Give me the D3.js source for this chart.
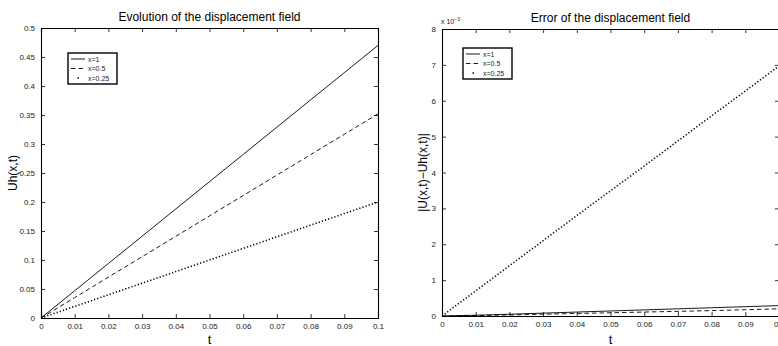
<!DOCTYPE html>
<html>
<head>
<meta charset="utf-8">
<script src="https://cdn.jsdelivr.net/npm/d3@7"></script>
<style>
  body { margin: 0; background: #fff; }
  svg { display: block; font-family: "Liberation Sans", Arial, Helvetica, sans-serif; }
</style>
</head>
<body>
<div id="chart"></div>
<script>
// time values (shared by both panels)
const tValues = [0, 0.01, 0.02, 0.03, 0.04, 0.05, 0.06, 0.07, 0.08, 0.09, 0.1];
const seriesNames = ["x=1", "x=0.5", "x=0.25"];

// left panel: Uh(x,t)
const uhX1 = [0, 0.047, 0.094, 0.141, 0.188, 0.235, 0.282, 0.329, 0.376, 0.423, 0.47];
const uhX05 = [0, 0.0352, 0.0704, 0.1056, 0.1408, 0.176, 0.2112, 0.2464, 0.2816, 0.3168, 0.352];
const uhX025 = [0, 0.02, 0.04, 0.06, 0.08, 0.1, 0.12, 0.14, 0.16, 0.18, 0.2];

// right panel: |U(x,t)-Uh(x,t)|
const errX1 = [0, 0.000022, 0.00005, 0.00008, 0.00011, 0.00014, 0.00017, 0.0002, 0.00023, 0.00026, 0.00029];
const errX05 = [0, 0.000012, 0.00003, 0.00005, 0.00007, 0.00009, 0.00011, 0.00013, 0.00015, 0.000175, 0.0002];
const errX025 = [0, 0.0007, 0.0014, 0.0021, 0.0028, 0.00349, 0.00418, 0.00488, 0.00558, 0.00627, 0.00697];

const xTicks = [0, 0.01, 0.02, 0.03, 0.04, 0.05, 0.06, 0.07, 0.08, 0.09, 0.1];
const leftYTicks = [0, 0.05, 0.1, 0.15, 0.2, 0.25, 0.3, 0.35, 0.4, 0.45, 0.5];
const rightYTicks = [0, 0.001, 0.002, 0.003, 0.004, 0.005, 0.006, 0.007, 0.008];

const styles = [
  { width: 0.9, dash: null },
  { width: 0.9, dash: "4.5,3" },
  { width: 1.6, dash: "1.2,2.1" }
];

const svg = d3.select("#chart").append("svg")
  .attr("width", 778)
  .attr("height", 346);

function drawPanel(opts) {
  const { left, top, width, height } = opts;
  const x = d3.scaleLinear().domain([0, 0.1]).range([left, left + width]);
  const y = d3.scaleLinear().domain(opts.yDomain).range([top + height, top]);
  const g = svg.append("g");

  const clipId = "clip" + left;
  svg.append("clipPath").attr("id", clipId)
    .append("rect").attr("x", left).attr("y", top - 2).attr("width", width).attr("height", height + 2);

  // lines
  const line = d3.line().x((d, i) => x(tValues[i])).y(d => y(d));
  opts.series.forEach((s, i) => {
    g.append("path").datum(s)
      .attr("clip-path", `url(#${clipId})`)
      .attr("fill", "none")
      .attr("stroke", "#000")
      .attr("stroke-width", styles[i].width)
      .attr("stroke-dasharray", styles[i].dash)
      .attr("d", line);
  });

  // axes with inward ticks
  const fmt = opts.fmt;
  g.append("g").attr("transform", `translate(0,${top + height})`)
    .call(d3.axisBottom(x).tickValues(xTicks).tickSize(-4).tickPadding(5).tickFormat(d => d3.format("")(+d.toFixed(2))));
  g.append("g").attr("transform", `translate(0,${top})`)
    .call(d3.axisTop(x).tickValues(xTicks).tickSize(-4).tickFormat(""));
  g.append("g").attr("transform", `translate(${left},0)`)
    .call(d3.axisLeft(y).tickValues(opts.yTicks).tickSize(-4).tickPadding(6).tickFormat(fmt));
  g.append("g").attr("transform", `translate(${left + width},0)`)
    .call(d3.axisRight(y).tickValues(opts.yTicks).tickSize(-4).tickFormat(""));

  g.selectAll(".domain").attr("stroke", "#000").attr("stroke-width", 1.1);
  g.selectAll(".tick line").attr("stroke", "#000").attr("stroke-width", 0.8);
  g.selectAll(".tick text").attr("font-size", 8).attr("fill", "#222")
    .attr("font-family", "Liberation Sans, Arial, sans-serif");

  // title
  g.append("text")
    .attr("x", left + width / 2).attr("y", top - 7)
    .attr("text-anchor", "middle").attr("font-size", 12)
    .text(opts.title);

  // x label
  g.append("text")
    .attr("x", left + width / 2).attr("y", 344)
    .attr("text-anchor", "middle").attr("font-size", 13)
    .text("t");

  // y label
  g.append("text")
    .attr("transform", `translate(${opts.yLabelX},${top + height / 2}) rotate(-90)`)
    .attr("text-anchor", "middle").attr("font-size", 12)
    .text(opts.yLabel);

  // legend
  const lg = g.append("g").attr("transform", `translate(${opts.legend[0]},${opts.legend[1]})`);
  lg.append("rect").attr("width", 49).attr("height", 31)
    .attr("fill", "#fff").attr("stroke", "#000").attr("stroke-width", 1.4);
  seriesNames.forEach((name, i) => {
    const ly = 6 + i * 9.5;
    lg.append("line")
      .attr("x1", 3).attr("x2", 17).attr("y1", ly).attr("y2", ly)
      .attr("stroke", "#000")
      .attr("stroke-width", styles[i].width)
      .attr("stroke-dasharray", i === 2 ? "1.5,30" : styles[i].dash)
      .attr("stroke-dashoffset", i === 2 ? -6.5 : 0);
    lg.append("text").attr("x", 20).attr("y", ly + 2.5)
      .attr("font-size", 7).attr("fill", "#222").text(name);
  });

  return { x, y };
}

drawPanel({
  left: 41, top: 28, width: 337, height: 290,
  yDomain: [0, 0.5], yTicks: leftYTicks,
  fmt: d => d3.format("")(+d.toFixed(2)),
  series: [uhX1, uhX05, uhX025],
  title: "Evolution of the displacement field",
  yLabel: "Uh(x,t)", yLabelX: 17,
  legend: [68, 53]
});

drawPanel({
  left: 442, top: 29, width: 337, height: 287,
  yDomain: [0, 0.008], yTicks: rightYTicks,
  fmt: d => Math.round(d * 1000),
  series: [errX1, errX05, errX025],
  title: "Error of the displacement field",
  yLabel: "|U(x,t)\u2212Uh(x,t)|", yLabelX: 427,
  legend: [463, 48]
});

// exponent note for the right y axis
const expo = svg.append("text").attr("x", 441).attr("y", 24).attr("font-size", 7).attr("fill", "#222");
expo.append("tspan").text("x 10");
expo.append("tspan").attr("dy", -3).attr("font-size", 5).text("\u22123");
</script>
</body>
</html>
